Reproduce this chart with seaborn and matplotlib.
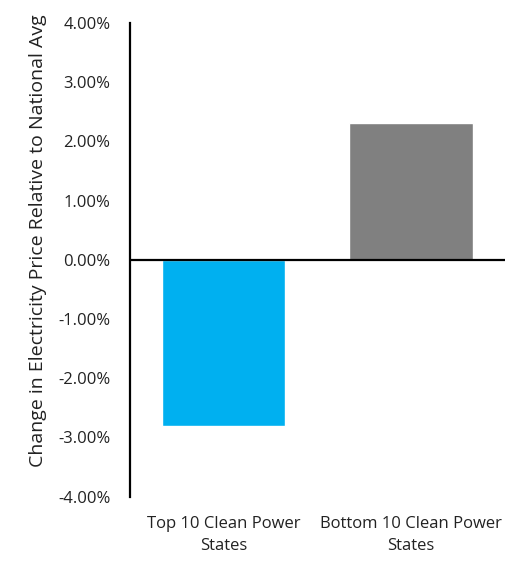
import matplotlib
matplotlib.use("Agg")
import matplotlib.pyplot as plt
import seaborn as sns
import pandas as pd
from matplotlib.ticker import PercentFormatter

categories = ["Top 10 Clean Power\nStates", "Bottom 10 Clean Power\nStates"]
price_change = [-0.0280, 0.0230]
bar_colors = ["#00B0F0", "#808080"]

sns.set_theme(style="white")
plt.rcParams["font.family"] = ["Open Sans", "DejaVu Sans"]
plt.rcParams["axes.unicode_minus"] = False

df = pd.DataFrame({"group": categories, "change": price_change})

fig = plt.figure(figsize=(5.28, 5.69), dpi=100)
ax = fig.add_axes([0.246, 0.127, 0.71, 0.833])

sns.barplot(data=df, x="group", y="change", hue="group", palette=bar_colors,
            width=0.66, saturation=1, legend=False, ax=ax)

ax.set_ylim(-0.04, 0.04)
ax.set_yticks([i / 100 for i in range(-4, 5)])
ax.yaxis.set_major_formatter(PercentFormatter(xmax=1, decimals=2))
ax.axhline(0, color="black", lw=1.6, zorder=3)

for side in ["top", "right", "bottom"]:
    ax.spines[side].set_visible(False)
ax.spines["left"].set_color("black")
ax.spines["left"].set_linewidth(1.6)

ax.tick_params(axis="y", length=0, pad=14, labelsize=12, colors="#222222")
ax.tick_params(axis="x", length=0, pad=14, labelsize=12, colors="#222222")
for lbl in ax.get_xticklabels():
    lbl.set_linespacing(1.45)
ax.set_xlabel("")
ax.set_ylabel("Change in Electricity Price Relative to National Avg",
              fontsize=14, color="#222222", labelpad=6)
ax.yaxis.set_label_coords(-0.22, 0.54)

fig.savefig("out.png", dpi=100)
plt.close(fig)
